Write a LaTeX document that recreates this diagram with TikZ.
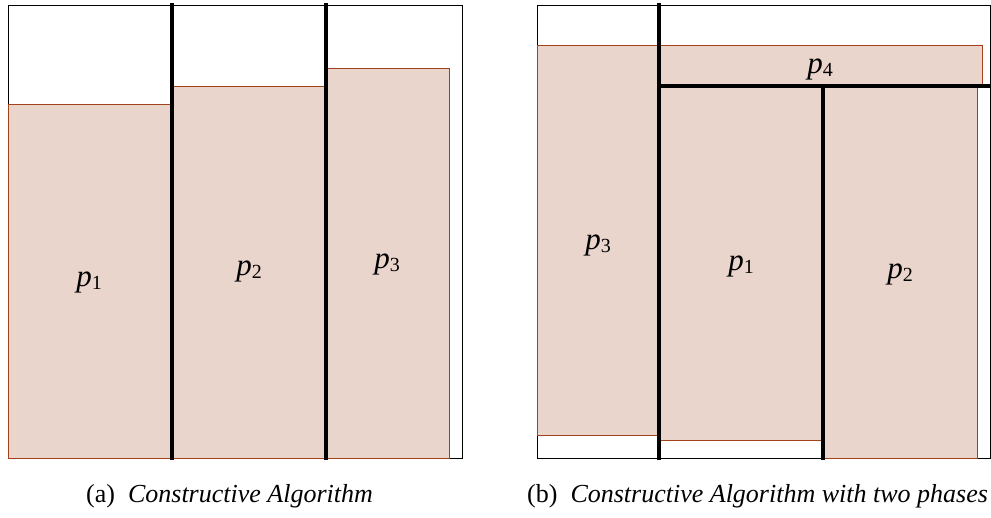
\documentclass[tikz,border=0pt]{standalone}
\usepackage{fontspec}
\setmainfont{Liberation Serif}
\definecolor{piecefill}{HTML}{E9D5CC}
\definecolor{pieceedge}{HTML}{A3421A}
\newcommand{\plab}[1]{\textit{p}\raisebox{-3.5pt}{\fontsize{20}{20}\selectfont #1}}
\begin{document}
\begin{tikzpicture}[x=1pt,y=-1pt,
  binbox/.style={draw=black,line width=1pt},
  piece/.style={fill=piecefill,draw=pieceedge,line width=1pt},
  cutline/.style={draw=black,line width=3.2pt},
  plabel/.style={anchor=base,inner sep=0pt,font=\fontsize{31}{31}\selectfont},
  caption/.style={anchor=base west,inner sep=0pt,font=\fontsize{26}{26}\selectfont}]
\useasboundingbox (0,0) rectangle (991,517);
% ---- (a) ----
\draw[binbox] (8,5) rectangle (462,458);
\draw[piece] (8,104) rectangle (172,458);
\draw[piece] (172,86) rectangle (326,458);
\draw[piece] (326,68) rectangle (449,458);
\draw[cutline] (172,3) -- (172,460);
\draw[cutline] (326,3) -- (326,460);
\node[plabel] (a1) at (89,286) {\plab{1}};
\node[plabel] (a2) at (249,275) {\plab{2}};
\node[plabel] (a3) at (387,268) {\plab{3}};
% ---- (b) ----
\draw[binbox] (537,5) rectangle (990,458);
\draw[piece] (537,45) rectangle (659,435);
\draw[piece] (659,45) rectangle (982,86);
\draw[piece] (659,86) rectangle (823,440);
\draw[piece] (823,86) rectangle (977,458);
\draw[cutline] (659,3) -- (659,460);
\draw[cutline] (659,86) -- (991,86);
\draw[cutline] (823,86) -- (823,460);
\node[plabel] (b4) at (820,73) {\plab{4}};
\node[plabel] (b3) at (598,249) {\plab{3}};
\node[plabel] (b1) at (741,270) {\plab{1}};
\node[plabel] (b2) at (900,278) {\plab{2}};
% ---- captions ----
\node[caption] (capa) at (86,502) {(a)\ \ \textit{Constructive Algorithm}};
\node[caption] (capb) at (527,502) {(b)\ \ \textit{Constructive Algorithm with two phases}};
\end{tikzpicture}
\end{document}
